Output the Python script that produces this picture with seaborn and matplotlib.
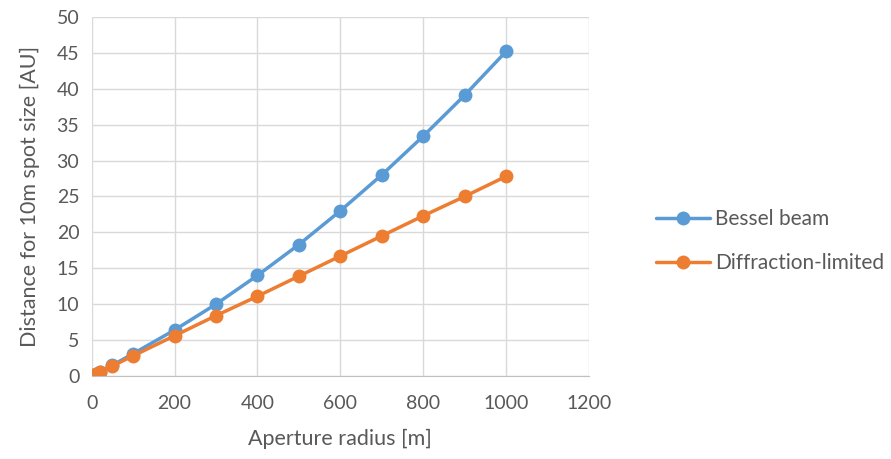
import matplotlib
matplotlib.use("Agg")
import matplotlib.pyplot as plt
import seaborn as sns
import pandas as pd

aperture = [10, 20, 50, 100, 200, 300, 400, 500, 600, 700, 800, 900, 1000]
bessel = [0.3, 0.6, 1.5, 3.1, 6.4, 10.0, 14.0, 18.3, 23.0, 28.0, 33.4, 39.1, 45.2]
diffraction = [0.28, 0.56, 1.4, 2.8, 5.6, 8.4, 11.1, 13.9, 16.7, 19.5, 22.3, 25.0, 27.8]
series_names = ["Bessel beam", "Diffraction-limited"]
colors = ["#5B9BD5", "#ED7D31"]

df = pd.concat([
    pd.DataFrame({"x": aperture, "y": bessel, "series": series_names[0]}),
    pd.DataFrame({"x": aperture, "y": diffraction, "series": series_names[1]}),
])

sns.set_style("white")
plt.rcParams["font.family"] = ["Lato", "DejaVu Sans"]
text_color = "#595959"

fig = plt.figure(figsize=(8.91, 4.59), dpi=100)
ax = fig.add_axes([0.103, 0.181, 0.558, 0.782])
sns.lineplot(data=df, x="x", y="y", hue="series", palette=colors, marker="o",
             markersize=10, linewidth=2.5, markeredgewidth=0, ax=ax, legend=False,
             sort=False)

ax.set_xlim(0, 1200)
ax.set_ylim(0, 50)
ax.set_xticks(range(0, 1201, 200))
ax.set_yticks(range(0, 51, 5))
ax.grid(True, color="#d9d9d9", linewidth=1)
ax.set_axisbelow(True)
for s in ["top", "right", "left"]:
    ax.spines[s].set_visible(False)
ax.spines["bottom"].set_color("#bfbfbf")
ax.tick_params(axis="x", length=0, labelsize=14, colors=text_color, pad=14)
ax.tick_params(axis="y", length=0, labelsize=14, colors=text_color, pad=9)
ax.set_xlabel("Aperture radius [m]", fontsize=15.5, color=text_color, labelpad=12)
ax.set_ylabel("Distance for 10m spot size [AU]", fontsize=15.5, color=text_color, labelpad=12)

handles = [plt.Line2D([], [], color=c, marker="o", markersize=10, linewidth=2.5,
                      markeredgewidth=0) for c in colors]
fig.legend(handles, series_names, loc="center left", bbox_to_anchor=(0.727, 0.475),
           frameon=False, fontsize=15, labelcolor=text_color, handlelength=2.6,
           labelspacing=1.15, handletextpad=0.25, borderaxespad=0)

fig.savefig("out.png", dpi=100)
